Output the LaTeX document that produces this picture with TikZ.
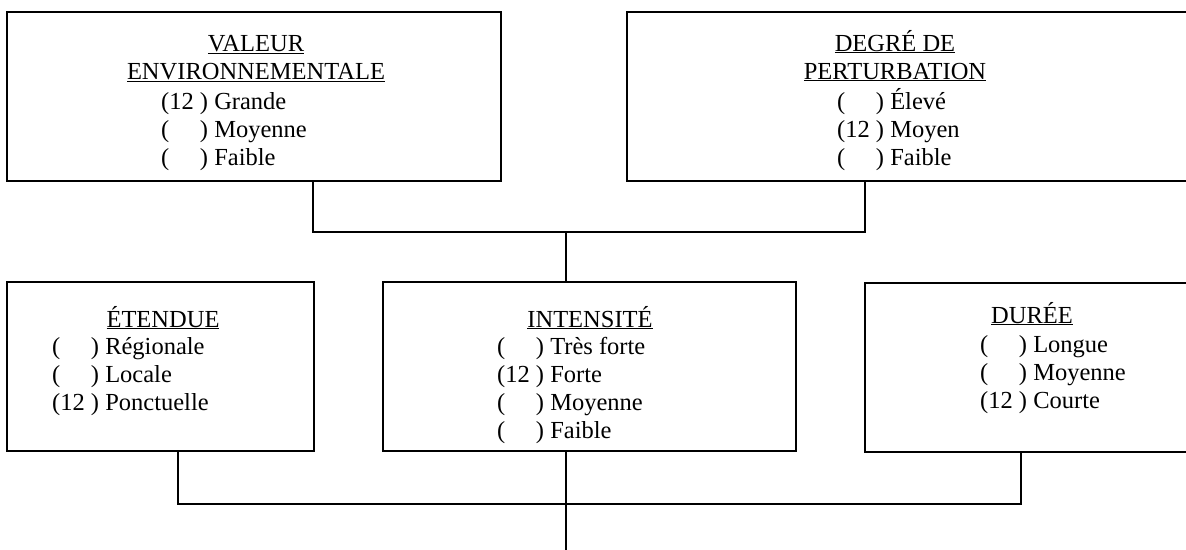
\documentclass[tikz,border=0pt]{standalone}
\usepackage{fontspec}
\setmainfont{Liberation Serif}
\usetikzlibrary{positioning, calc}

\tikzset{
	boite/.style={draw, line width=2.6pt, inner sep=0pt},
	titre/.style={align=center, inner sep=0pt, anchor=base},
	liste/.style={align=left, inner sep=0pt, anchor=base west},
	lien/.style={line width=2.2pt},
}
\newcommand{\vide}{\phantom{12}}

\begin{document}
\begin{tikzpicture}[x=1pt, y=-1pt, font=\fontsize{24.5}{28}\selectfont]
	\useasboundingbox (0,0) rectangle (1186,549);
	\clip (0,0) rectangle (1186,549);
	% boites du haut (ancre sur la derniere ligne)
	\node[boite, minimum width=494pt, minimum height=169pt] (valeur) at (254,96.5) {};
	\node[boite, minimum width=583pt, minimum height=169pt] (degre) at (918.5,96.5) {};
	\node[titre] (valeurT) at (256,79) {\underline{VALEUR}\\\underline{ENVIRONNEMENTALE}};
	\node[liste] (valeurL) at (161,165) {(12 ) Grande\\(\vide\ ) Moyenne\\(\vide\ ) Faible};
	\node[titre] (degreT) at (895,79) {\underline{DEGRÉ DE}\\\underline{PERTURBATION}};
	\node[liste] (degreL) at (837,165) {(\vide\ ) Élevé\\(12 ) Moyen\\(\vide\ ) Faible};
	% boites du bas
	\node[boite, minimum width=307pt, minimum height=169pt] (etendue) at (160.5,366.5) {};
	\node[boite, minimum width=413pt, minimum height=169pt] (intensite) at (589.5,366.5) {};
	\node[boite, minimum width=345pt, minimum height=169pt] (duree) at (1037.5,367.5) {};
	\node[titre] (etendueT) at (163,327) {\underline{ÉTENDUE}};
	\node[liste] (etendueL) at (52,410) {(\vide\ ) Régionale\\(\vide\ ) Locale\\(12 ) Ponctuelle};
	\node[titre] (intensiteT) at (590,327) {\underline{INTENSITÉ}};
	\node[liste] (intensiteL) at (497,438) {(\vide\ ) Très forte\\(12 ) Forte\\(\vide\ ) Moyenne\\(\vide\ ) Faible};
	\node[titre] (dureeT) at (1032,323) {\underline{DURÉE}};
	\node[liste] (dureeL) at (980,408) {(\vide\ ) Longue\\(\vide\ ) Moyenne\\(12 ) Courte};
	% liaisons
	\coordinate (haut) at (566,232);
	\coordinate (bas) at (566,504);
	\coordinate (fin) at (566,555);
	\draw[lien] ([xshift=59pt]valeur.south) |- (haut) -| ([xshift=-53.5pt]degre.south);
	\draw[lien] (haut) -- (haut |- intensite.north);
	\draw[lien] ([xshift=17.5pt]etendue.south) |- (bas) -| ([xshift=-16.5pt]duree.south);
	\draw[lien] (bas |- intensite.south) -- (fin);
\end{tikzpicture}
\end{document}
